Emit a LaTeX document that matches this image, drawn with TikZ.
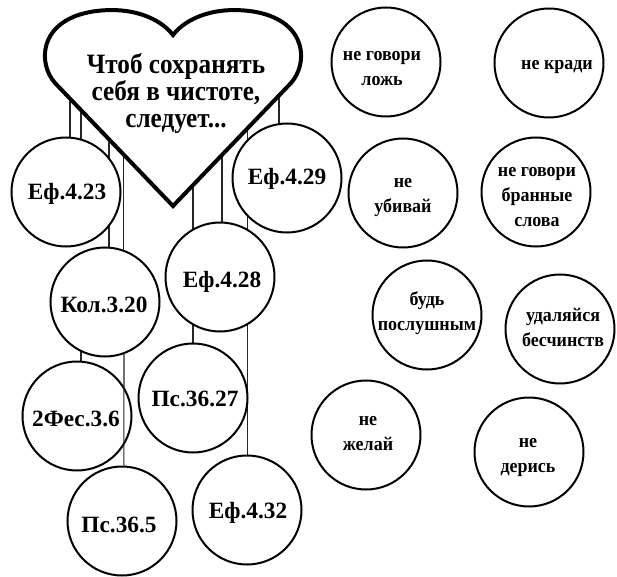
\documentclass[tikz,border=0pt]{standalone}
\usepackage{fontspec}
\setmainfont{Liberation Serif}
\newfontfamily\heartfont{Liberation Serif}[FakeStretch=0.9]
\newfontfamily\rulefont{Liberation Serif}[FakeStretch=0.93]
\usetikzlibrary{backgrounds}
\begin{document}
\begin{tikzpicture}[x=0.75pt,y=-0.75pt,
  disc/.style={circle,draw,line width=1.5pt,fill=white,minimum size=81.75pt,inner sep=0pt},
  reftxt/.style={font=\bfseries\fontsize{17.5}{20}\selectfont,anchor=base,inner sep=0pt},
  ruletxt/.style={font=\rulefont\bfseries\fontsize{14.5}{18.75}\selectfont,align=center,anchor=base,inner sep=0pt},
  hearttxt/.style={font=\heartfont\bfseries\fontsize{21}{20.25}\selectfont,align=center,anchor=base,inner sep=0pt},
  thread/.style={line width=0.8pt,black!85}]
\useasboundingbox (0,0) rectangle (617,577);
% heart
\draw[line width=3pt,fill=white] (173,206) -- (55,83) .. controls (38,64) and (38,22) .. (90,12)
  .. controls (130,5) and (160,18) .. (173,35)
  .. controls (186,18) and (216,5) .. (256,12)
  .. controls (308,22) and (308,64) .. (291,83) -- cycle;
\node[hearttxt] (title) at (176,128) {Чтоб сохранять\\себя в чистоте,\\следует...};
% reference circles
\node[disc] (e423) at (66,192) {};
\node[disc] (e429) at (287,178) {};
\node[disc] (kol) at (105,302) {};
\node[disc] (e428) at (220,277) {};
\node[disc] (fes) at (77,416) {};
\node[disc] (ps3627) at (193,398) {};
\node[disc] (ps365) at (122,521) {};
\node[disc] (e432) at (247,510) {};
\node[reftxt] (t423) at (67,200) {Еф.4.23};
\node[reftxt] (t429) at (287,185) {Еф.4.29};
\node[reftxt] (tkol) at (104,312) {Кол.3.20};
\node[reftxt] (t428) at (222,287) {Еф.4.28};
\node[reftxt] (tfes) at (76,426) {2Фес.3.6};
\node[reftxt] (t3627) at (195,406) {Пс.36.27};
\node[reftxt] (t365) at (119,532) {Пс.36.5};
\node[reftxt] (t432) at (248,518) {Еф.4.32};
% rule circles
\node[disc] (lie) at (386,62) {};
\node[disc] (steal) at (549,63) {};
\node[disc] (kill) at (403,193) {};
\node[disc] (swear) at (536,192) {};
\node[disc] (obey) at (427,315) {};
\node[disc] (riot) at (560,329) {};
\node[disc] (covet) at (366,435) {};
\node[disc] (fight) at (529,452) {};
\node[ruletxt] (tlie) at (382,86) {не говори\\ложь};
\node[ruletxt] (tsteal) at (557,70) {не кради};
\node[ruletxt] (tkill) at (403,213) {не\\убивай};
\node[ruletxt] (tswear) at (537,227) {не говори\\бранные\\слова};
\node[ruletxt] (tobey) at (427,330) {будь\\послушным};
\node[ruletxt] (triot) at (563,346) {удаляйся\\бесчинств};
\node[ruletxt] (tcovet) at (368,450) {не\\желай};
\node[ruletxt] (tfight) at (528,472) {не\\дерись};
% threads
\coordinate (h1) at (70,60);
\coordinate (h2) at (81,60);
\coordinate (h3) at (109,60);
\coordinate (h4) at (123.5,60);
\coordinate (h5) at (193,60);
\coordinate (h6) at (222,60);
\coordinate (h7) at (247.5,60);
\coordinate (h8) at (279,60);
\coordinate (k1) at (81,302);
\begin{pgfonlayer}{background}
\draw[thread] (h1) -- (h1 |- e423.center);
\draw[thread] (h2) -- (h2 |- e423.center);
\draw[thread] (h3) -- (h3 |- kol.center);
\draw[thread] (h4) -- (h4 |- kol.center);
\draw[thread] (k1) -- (k1 |- fes.center);
\draw[thread] (h5) -- (h5 |- ps3627.center);
\draw[thread] (h6) -- (h6 |- e428.center);
\draw[thread] (h7) -- (h7 |- e432.center);
\draw[thread] (h8) -- (h8 |- e429.center);
\end{pgfonlayer}
\draw[thread] (kol.-70) -- (ps365.88);
\end{tikzpicture}
\end{document}
